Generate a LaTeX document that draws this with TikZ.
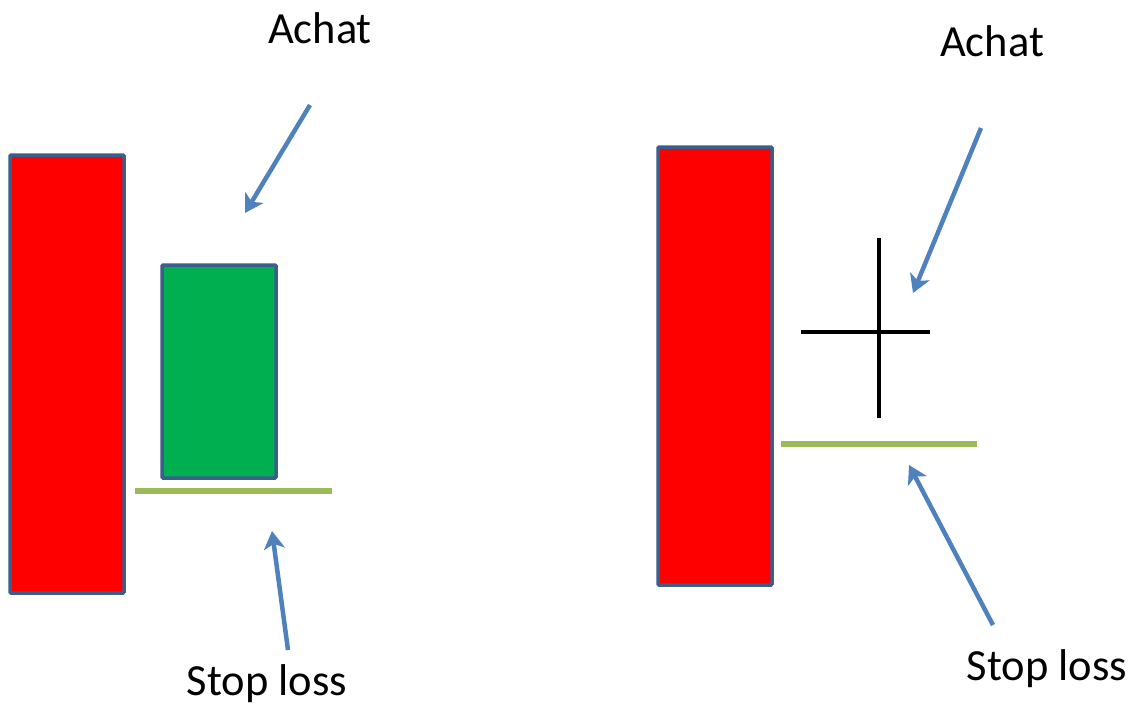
\documentclass[tikz,border=0pt]{standalone}
\usepackage{fontspec}
\setmainfont{Carlito}
\usetikzlibrary{arrows.meta}
\definecolor{boxedge}{HTML}{3B5E8C}
\definecolor{candlered}{HTML}{FF0000}
\definecolor{candlegreen}{HTML}{00B050}
\definecolor{stopgreen}{HTML}{9BBB59}
\definecolor{arrowblue}{HTML}{4F81BD}
\tikzset{
  candle/.style={draw=boxedge, line width=3.5pt, rounded corners=1pt, inner sep=0pt, outer sep=0pt},
  stopline/.style={draw=stopgreen, line width=6pt},
  pointer/.style={draw=arrowblue, line width=4.5pt, -{Stealth[length=18pt,width=21pt,inset=5pt]}},
  crossline/.style={draw=black, line width=3.5pt},
  label/.style={font=\fontsize{44.5}{52}\selectfont, inner sep=0pt}
}
\begin{document}
\begin{tikzpicture}[x=1pt,y=-1pt]
\useasboundingbox (0,0) rectangle (1137,705);
% left figure
\node[candle, fill=candlered, minimum width=114pt, minimum height=438pt] (redA) at (67,374) {};
\node[candle, fill=candlegreen, minimum width=114pt, minimum height=213pt] (greenA) at (219,371.5) {};
\coordinate (stopAl) at (135,491);
\coordinate (stopAr) at (332,491);
\draw[stopline] (stopAl) -- (stopAr);
\node[label] (achatA) at (320,28) {Achat};
\coordinate (achatAfrom) at (310,105);
\coordinate (achatAto) at (245,213);
\draw[pointer] (achatAfrom) -- (achatAto);
\node[label] (stopA) at (267,684) {Stop loss};
\coordinate (stopAfrom) at (288,650);
\coordinate (stopAto) at (272,531);
\draw[pointer] (stopAfrom) -- (stopAto);
% right figure
\node[candle, fill=candlered, minimum width=114pt, minimum height=438pt] (redB) at (715,366) {};
\coordinate (crossTop) at (879,238);
\coordinate (crossBot) at (879,418);
\coordinate (crossL) at (801,332);
\coordinate (crossR) at (930,332);
\draw[crossline] (crossTop) -- (crossBot);
\draw[crossline] (crossL) -- (crossR);
\coordinate (stopBl) at (781,444);
\coordinate (stopBr) at (977,444);
\draw[stopline] (stopBl) -- (stopBr);
\node[label] (achatB) at (992,41) {Achat};
\coordinate (achatBfrom) at (981,128);
\coordinate (achatBto) at (913,293);
\draw[pointer] (achatBfrom) -- (achatBto);
\node[label] (stopB) at (1047,669) {Stop loss};
\coordinate (stopBfrom) at (993,625);
\coordinate (stopBto) at (909,465);
\draw[pointer] (stopBfrom) -- (stopBto);
\end{tikzpicture}
\end{document}
